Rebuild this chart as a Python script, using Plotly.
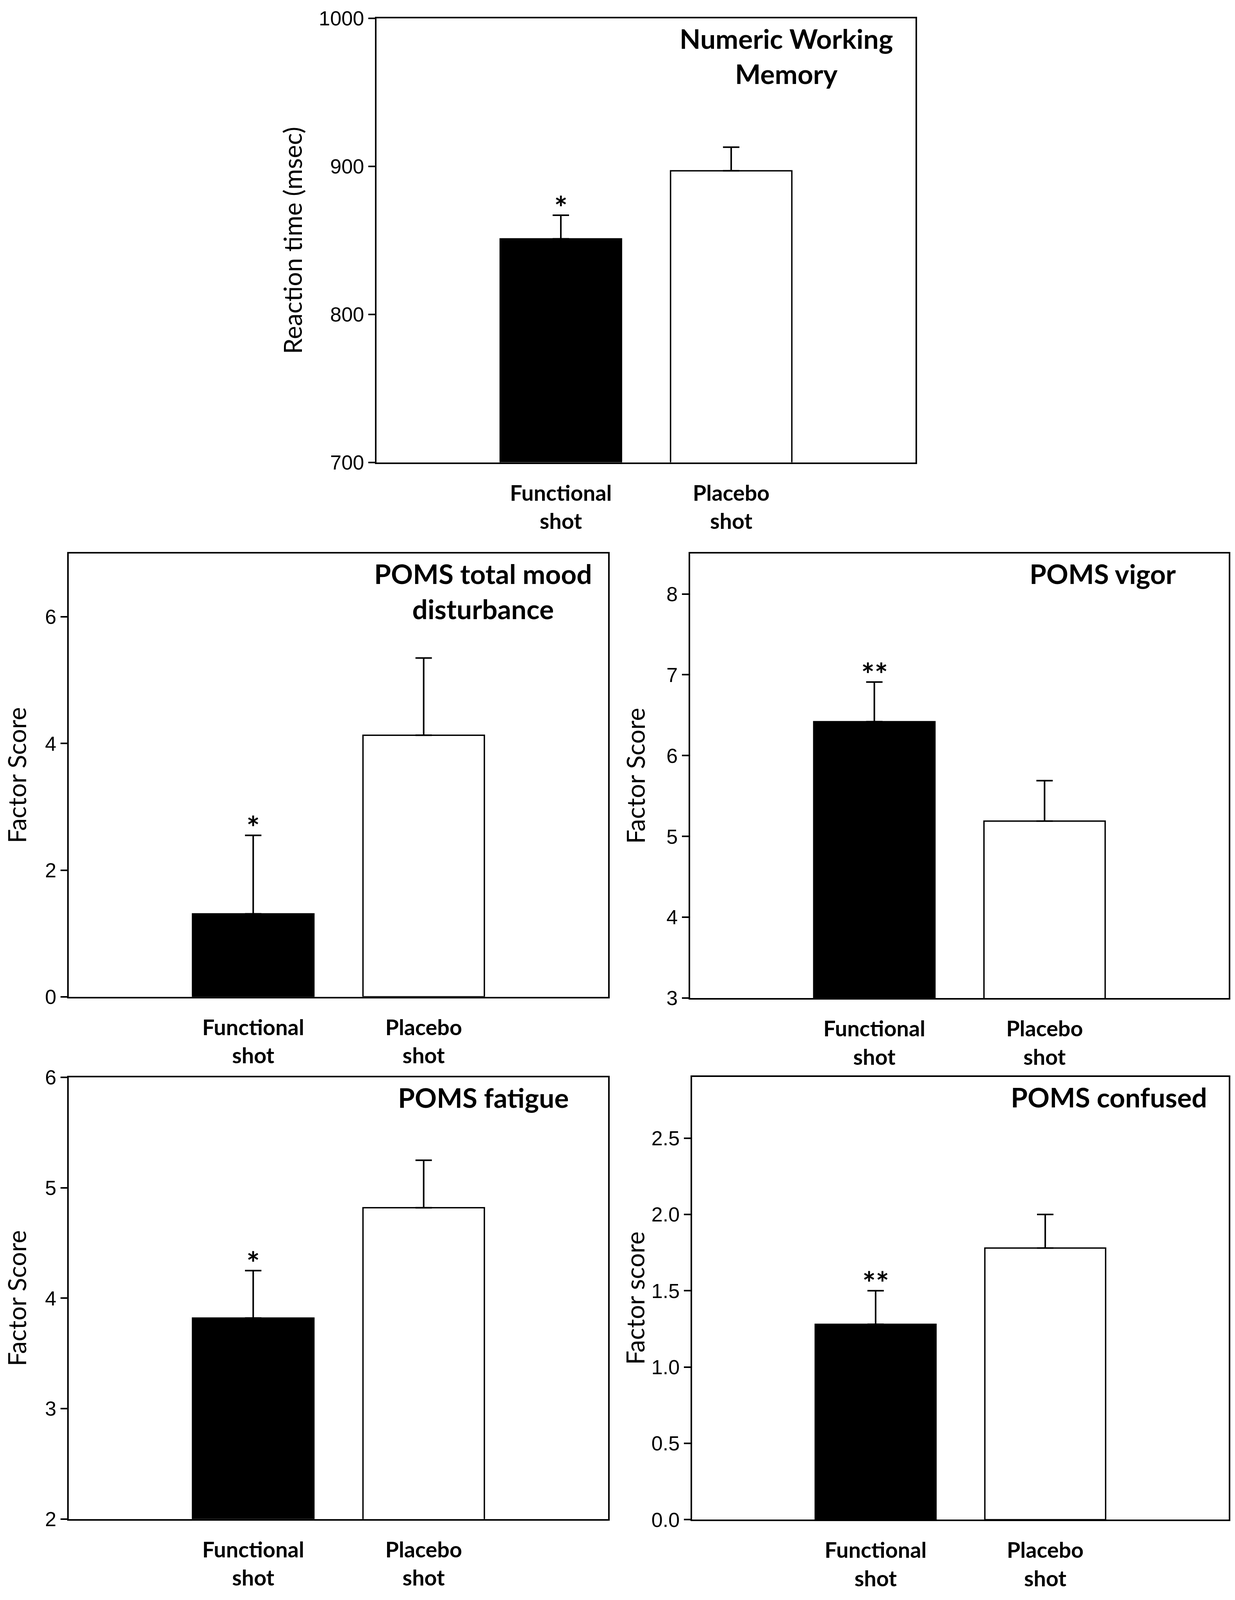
import plotly.graph_objects as go

# group labels and bar fills
groups = ["Functional<br>shot", "Placebo<br>shot"]
bar_fill = ["black", "white"]

# values (mean, upward SE)
nwm_mean = [851, 897]
nwm_se = [16, 16]
nwm_stars = ["*", ""]

tmd_mean = [1.31, 4.13]
tmd_se = [1.24, 1.22]
tmd_stars = ["*", ""]

vigor_mean = [6.42, 5.19]
vigor_se = [0.49, 0.50]
vigor_stars = ["**", ""]

fatigue_mean = [3.82, 4.82]
fatigue_se = [0.43, 0.43]
fatigue_stars = ["*", ""]

confused_mean = [1.28, 1.78]
confused_se = [0.22, 0.22]
confused_stars = ["**", ""]

W, H = 3162, 4893


def px_x(v):
    return v / W


def px_y(v):
    return 1 - v / H


# panel boxes in pixels: left, right, top, bottom
panels = [
    dict(mean=nwm_mean, se=nwm_se, stars=nwm_stars,
         title="Numeric Working<br>Memory", ytitle="Reaction time (msec)",
         yrange=[700, 1000], ytick=[700, 800, 900, 1000], fmt="d",
         box=(964, 2344, 22, 1399), ytitle_x=748, title_x=2013),
    dict(mean=tmd_mean, se=tmd_se, stars=tmd_stars,
         title="POMS total mood<br>disturbance", ytitle="Factor Score",
         yrange=[0, 7], ytick=[0, 2, 4, 6], fmt="d",
         box=(176, 1557, 1682, 3057), ytitle_x=42, title_x=1237),
    dict(mean=vigor_mean, se=vigor_se, stars=vigor_stars,
         title="POMS vigor", ytitle="Factor Score",
         yrange=[3, 8.5], ytick=[3, 4, 5, 6, 7, 8], fmt="d",
         box=(1767, 3146, 1682, 3061), ytitle_x=1626, title_x=2823),
    dict(mean=fatigue_mean, se=fatigue_se, stars=fatigue_stars,
         title="POMS fatigue", ytitle="Factor Score",
         yrange=[2, 6], ytick=[2, 3, 4, 5, 6], fmt="d",
         box=(176, 1557, 3307, 4677), ytitle_x=42, title_x=1237),
    dict(mean=confused_mean, se=confused_se, stars=confused_stars,
         title="POMS confused", ytitle="Factor score",
         yrange=[0, 2.9], ytick=[0, 0.5, 1.0, 1.5, 2.0, 2.5], fmt=".1f",
         box=(1772, 3146, 3306, 4679), ytitle_x=1626, title_x=2839),
]

fig = go.Figure()
layout = dict(
    width=W, height=H,
    margin=dict(l=0, r=0, t=0, b=0),
    paper_bgcolor="white", plot_bgcolor="white",
    showlegend=False,
)
annotations = []

for i, p in enumerate(panels, start=1):
    xa = "x" if i == 1 else f"x{i}"
    ya = "y" if i == 1 else f"y{i}"
    l, r, t, b = p["box"]

    fig.add_trace(go.Bar(
        x=[0, 1], y=p["mean"], width=0.712,
        marker=dict(color=bar_fill, line=dict(color="black", width=3.5)),
        error_y=dict(type="data", symmetric=False, array=p["se"],
                     arrayminus=[0, 0], color="black", thickness=4, width=21),
        xaxis=xa, yaxis=ya,
    ))

    layout["xaxis" if i == 1 else f"xaxis{i}"] = dict(
        domain=[px_x(l), px_x(r)], anchor=ya,
        range=[-1.082, 2.082], tickvals=[0, 1], ticktext=groups,
        showline=True, linecolor="black", linewidth=4, mirror=True,
        ticks="", showgrid=False, zeroline=False, fixedrange=True,
        tickfont=dict(family="Lato", size=61, color="black", weight="bold"),
        ticklabelstandoff=27,
    )
    layout["yaxis" if i == 1 else f"yaxis{i}"] = dict(
        domain=[px_y(b), px_y(t)], anchor=xa,
        range=p["yrange"], tickvals=p["ytick"], tickformat=p["fmt"],
        showline=True, linecolor="black", linewidth=4, mirror=True,
        ticks="outside", ticklen=19, tickwidth=4, tickcolor="black",
        showgrid=False, zeroline=False,
        tickfont=dict(family="Liberation Sans", size=57, color="black"),
    )

    # panel title inside the box
    annotations.append(dict(
        xref="paper", yref="paper", x=px_x(p["title_x"]), y=px_y(t + 8),
        xanchor="center", yanchor="top", align="center", showarrow=False,
        text=p["title"],
        font=dict(family="Lato", size=76, color="black", weight="bold"),
    ))
    # y axis title
    annotations.append(dict(
        xref="paper", yref="paper", x=px_x(p["ytitle_x"]), y=px_y((t + b) / 2),
        xanchor="center", yanchor="middle", textangle=-90, showarrow=False,
        text=p["ytitle"], font=dict(family="Lato", size=70, color="black"),
    ))
    # significance stars
    for k in range(2):
        if p["stars"][k]:
            annotations.append(dict(
                xref=xa, yref=ya, x=k, y=p["mean"][k] + p["se"][k],
                xanchor="center", yanchor="middle", showarrow=False,
                text=p["stars"][k], yshift=22,
                font=dict(family="Lato", size=88, color="black", weight="bold"),
            ))

layout["annotations"] = annotations
fig.update_layout(**layout)

# fit the figure to the visible window; text sizes follow the window size
fit_js = """
var gd = document.getElementById('{plot_id}');
document.body.style.margin = '0';
document.body.style.overflow = 'hidden';
var w = window.innerWidth, h = window.innerHeight;
var k = Math.sqrt((w / %d) * (h / %d));
var upd = {width: w, height: h};
(gd.layout.annotations || []).forEach(function (a, i) {
    upd['annotations[' + i + '].font.size'] = a.font.size * k;
    if (a.yshift) { upd['annotations[' + i + '].yshift'] = a.yshift * k; }
});
Object.keys(gd.layout).forEach(function (key) {
    if (/^[xy]axis[0-9]*$/.test(key)) {
        var ax = gd.layout[key];
        upd[key + '.tickfont.size'] = ax.tickfont.size * k;
        if (ax.ticklen) { upd[key + '.ticklen'] = ax.ticklen * k; }
    }
});
Plotly.relayout(gd, upd);
""" % (W, H)

fig.write_html("out.html", post_script=fit_js,
               config={"displayModeBar": False})
